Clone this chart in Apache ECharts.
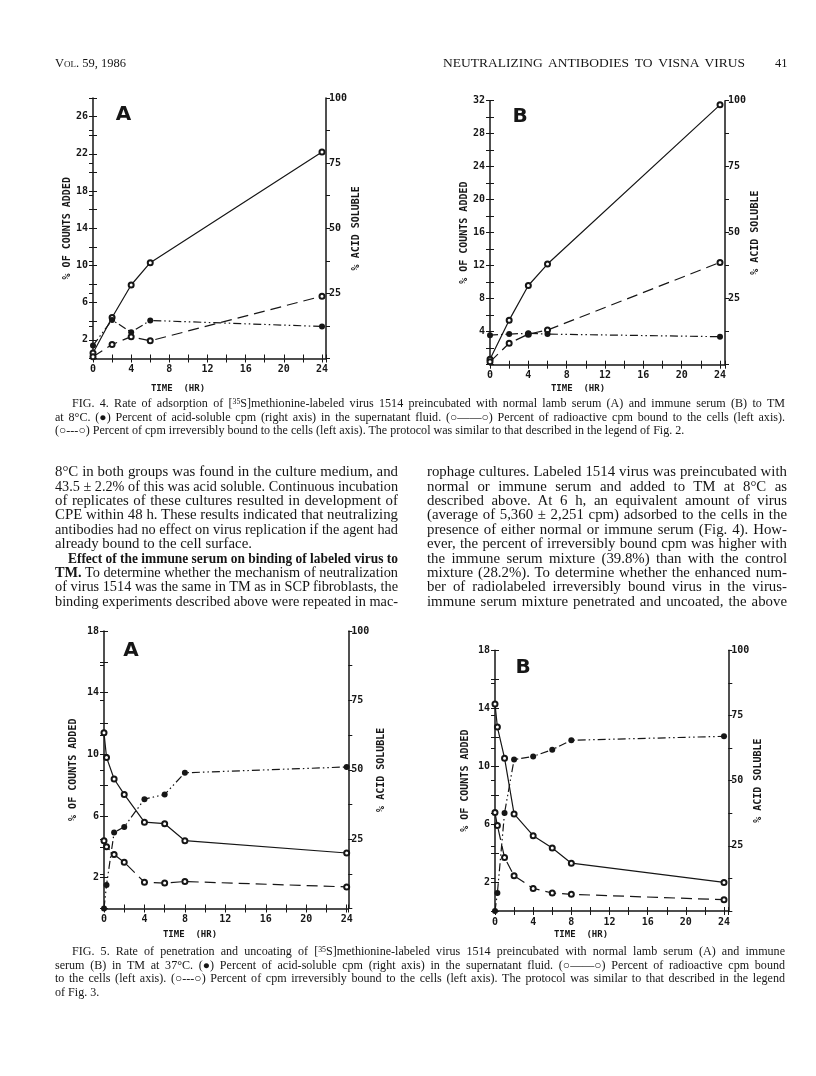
<!DOCTYPE html>
<html>
<head>
<meta charset="utf-8">
<script src="https://cdn.jsdelivr.net/npm/echarts@6/dist/echarts.min.js"></script>
<style>
html,body{margin:0;padding:0;background:#fff;}
#page{position:relative;width:816px;height:1076px;overflow:hidden;background:#fff;}
#chart{position:absolute;left:0;top:0;width:816px;height:1076px;}
.ln{position:absolute;white-space:nowrap;font-family:"Liberation Serif","Times New Roman",serif;color:#151515;transform-origin:0 50%;line-height:1;}
.ln sup{font-size:0.65em;line-height:0;vertical-align:0.45em;}
</style>
</head>
<body>
<div id="page"><div id="chart"></div><div id="txt"></div></div>
<script>
// ---------------- DATA ----------------
const fig4Time = [0, 2, 4, 6, 24];
const fig4ABound = [0.6, 4.4, 7.9, 10.3, 22.2];
const fig4AIrrev = [0.2, 1.5, 2.35, 1.9, 6.7];
const fig4AAcid  = [5.0, 14.8, 10.1, 14.6, 12.3];
const fig4BBound = [0.65, 5.4, 9.6, 12.2, 31.5];
const fig4BIrrev = [0.35, 2.6, 3.7, 4.2, 12.4];
const fig4BAcid  = [11.2, 11.6, 11.9, 11.6, 10.6];

const fig5Time = [0, 0.25, 1, 2, 4, 6, 8, 24];
const fig5ABound = [11.4, 9.8, 8.4, 7.4, 5.6, 5.5, 4.4, 3.6];
const fig5AIrrev = [4.4, 4.0, 3.5, 3.0, 1.7, 1.65, 1.75, 1.4];
const fig5AAcid  = [0, 8.5, 27.4, 29.4, 39.4, 41.1, 48.9, 51.0];
const fig5BBound = [14.3, 12.7, 10.55, 6.7, 5.2, 4.35, 3.3, 1.97];
const fig5BIrrev = [6.8, 5.9, 3.7, 2.43, 1.56, 1.24, 1.15, 0.78];
const fig5BAcid  = [0, 6.9, 37.6, 58.1, 59.3, 61.9, 65.5, 67.0];

const xTickLabels = [0, 4, 8, 12, 16, 20, 24];
const rightTickLabels = [25, 50, 75, 100];
const leftLabels4A = [2, 6, 10, 14, 18, 22, 26];
const leftLabels4B = [4, 8, 12, 16, 20, 24, 28, 32];
const leftLabels5 = [2, 6, 10, 14, 18];

const xName = 'TIME  (HR)';
const leftName = '% OF COUNTS ADDED';
const rightName = '% ACID SOLUBLE';

// ---------------- TEXT ----------------
const headerLeft = '<span style="font-variant:small-caps">Vol.</span> 59, 1986';
const headerRight = 'NEUTRALIZING ANTIBODIES TO VISNA VIRUS';
const pageNo = '41';

const fig4Caption = [
  'FIG. 4. Rate of adsorption of [<sup>35</sup>S]methionine-labeled virus 1514 preincubated with normal lamb serum (A) and immune serum (B) to TM',
  'at 8°C. (●) Percent of acid-soluble cpm (right axis) in the supernatant fluid. (○——○) Percent of radioactive cpm bound to the cells (left axis).',
  '(○---○) Percent of cpm irreversibly bound to the cells (left axis). The protocol was similar to that described in the legend of Fig. 2.'
];
const bodyLeft = [
  '8°C in both groups was found in the culture medium, and',
  '43.5 ± 2.2% of this was acid soluble. Continuous incubation',
  'of replicates of these cultures resulted in development of',
  'CPE within 48 h. These results indicated that neutralizing',
  'antibodies had no effect on virus replication if the agent had',
  'already bound to the cell surface.',
  '<b>Effect of the immune serum on binding of labeled virus to</b>',
  '<b>TM.</b> To determine whether the mechanism of neutralization',
  'of virus 1514 was the same in TM as in SCP fibroblasts, the',
  'binding experiments described above were repeated in mac-'
];
const bodyRight = [
  'rophage cultures. Labeled 1514 virus was preincubated with',
  'normal or immune serum and added to TM at 8°C as',
  'described above. At 6 h, an equivalent amount of virus',
  '(average of 5,360 ± 2,251 cpm) adsorbed to the cells in the',
  'presence of either normal or immune serum (Fig. 4). How-',
  'ever, the percent of irreversibly bound cpm was higher with',
  'the immune serum mixture (39.8%) than with the control',
  'mixture (28.2%). To determine whether the enhanced num-',
  'ber of radiolabeled irreversibly bound virus in the virus-',
  'immune serum mixture penetrated and uncoated, the above'
];
const fig5Caption = [
  'FIG. 5. Rate of penetration and uncoating of [<sup>35</sup>S]methionine-labeled virus 1514 preincubated with normal lamb serum (A) and immune',
  'serum (B) in TM at 37°C. (●) Percent of acid-soluble cpm (right axis) in the supernatant fluid. (○——○) Percent of radioactive cpm bound',
  'to the cells (left axis). (○---○) Percent of cpm irreversibly bound to the cells (left axis). The protocol was similar to that described in the legend',
  'of Fig. 3.'
];

// ---------------- TEXT LAYOUT ----------------
const txt = document.getElementById('txt');
function placeLine(html, x, y, w, size, justify, maxStretch) {
  const d = document.createElement('div');
  d.className = 'ln';
  d.style.left = x + 'px';
  d.style.top = (y - size * 0.6) + 'px';
  d.style.fontSize = size + 'px';
  d.innerHTML = html;
  txt.appendChild(d);
  const nat = d.getBoundingClientRect().width;
  const ms = maxStretch || 1;
  if (nat > w) {
    d.style.transform = 'scaleX(' + (w / nat) + ')';
  } else {
    const s = Math.min(ms, w / nat);
    if (s > 1) d.style.transform = 'scaleX(' + s + ')';
    if (justify) {
      const spaces = (d.textContent.match(/ /g) || []).length;
      if (spaces) d.style.wordSpacing = ((w / s - nat) / spaces) + 'px';
    }
  }
}
placeLine(headerLeft, 55, 64, 200, 12.5, false);
placeLine(headerRight, 443, 64, 302, 12.5, true, 1.08);
placeLine(pageNo, 775, 64, 20, 12.5, false);

const capLeft = 55, capRight = 785, capIndent = 17;
const cap4Y = [405, 418.5, 432];
fig4Caption.forEach((t, i) => {
  const x = i === 0 ? capLeft + capIndent : capLeft;
  placeLine(t, x, cap4Y[i], capRight - x, 11.5, i < fig4Caption.length - 1, 1.05);
});
const bodyY0 = 473.5, bodyDY = 14.4;
bodyLeft.forEach((t, i) => {
  let x = 55, w = 343;
  if (i === 6) { x += 13; w -= 13; }
  placeLine(t, x, bodyY0 + i * bodyDY, w, 14, i !== 5, 1.06);
});
bodyRight.forEach((t, i) => {
  placeLine(t, 427, bodyY0 + i * bodyDY, 360, 14, true, 1.06);
});
const cap5Y = [953, 966.5, 980, 993.5];
fig5Caption.forEach((t, i) => {
  const x = i === 0 ? capLeft + capIndent : capLeft;
  placeLine(t, x, cap5Y[i], capRight - x, 11.5, i < fig5Caption.length - 1, 1.05);
});

// ---------------- CHARTS ----------------
const INK = '#161616';
const PLOT_FONT = '"DejaVu Sans Mono", monospace';
const panels = [
  { grid: { left: 93, top: 98, width: 233, height: 260.5 }, xMax: 24.42, yMax: 28, leftLabels: leftLabels4A,
    time: fig4Time, bound: fig4ABound, irrev: fig4AIrrev, acid: fig4AAcid,
    letter: 'A', letterPos: [123.5, 115], namePos: [178, 389], gapL: 16, gapR: 23 },
  { grid: { left: 490, top: 100.7, width: 235, height: 264 }, xMax: 24.52, yMax: 32, leftLabels: leftLabels4B,
    time: fig4Time, bound: fig4BBound, irrev: fig4BIrrev, acid: fig4BAcid,
    letter: 'B', letterPos: [520, 117], namePos: [578, 389], gapL: 18, gapR: 23 },
  { grid: { left: 104, top: 631, width: 244.3, height: 277.5 }, xMax: 24.16, yMax: 18, leftLabels: leftLabels5,
    time: fig5Time, bound: fig5ABound, irrev: fig5AIrrev, acid: fig5AAcid,
    letter: 'A', letterPos: [131, 651], namePos: [190, 935], gapL: 26, gapR: 28 },
  { grid: { left: 495, top: 650.3, width: 233.3, height: 260.7 }, xMax: 24.45, yMax: 18, leftLabels: leftLabels5,
    time: fig5Time, bound: fig5BBound, irrev: fig5BIrrev, acid: fig5BAcid,
    letter: 'B', letterPos: [523, 668], namePos: [581, 935], gapL: 25, gapR: 24 }
];

const grids = [], xAxes = [], yAxes = [], series = [], graphics = [];
const lblStyle = { color: INK, fontFamily: PLOT_FONT, fontSize: 10, fontWeight: 'bold' };
const nameStyle = { color: INK, fontFamily: PLOT_FONT, fontSize: 10, fontWeight: 'bold' };
const lineAxis = { show: true, onZero: false, lineStyle: { color: INK, width: 1.5 } };

function zip(t, v) { return t.map((x, i) => [x, v[i]]); }

panels.forEach((p, gi) => {
  grids.push(Object.assign({ containLabel: false }, p.grid));
  const xi = xAxes.length, yi = yAxes.length;
  xAxes.push({ type: 'value', gridIndex: gi, position: 'bottom', min: 0, max: p.xMax, interval: 2,
    axisLine: lineAxis, axisTick: { show: true, length: 4, lineStyle: { color: INK, width: 1 } },
    axisLabel: Object.assign({ margin: 6, formatter: v => xTickLabels.includes(v) ? String(v) : '' }, lblStyle),
    splitLine: { show: false } });
  xAxes.push({ type: 'value', gridIndex: gi, position: 'bottom', min: 0, max: p.xMax, interval: 2,
    axisLine: { show: false }, axisTick: { show: true, inside: true, length: 4, lineStyle: { color: INK, width: 1 } },
    axisLabel: { show: false }, splitLine: { show: false } });
  yAxes.push({ type: 'value', gridIndex: gi, position: 'left', min: 0, max: p.yMax, interval: 2,
    axisLine: lineAxis, axisTick: { show: true, length: 4, lineStyle: { color: INK, width: 1 } },
    axisLabel: Object.assign({ margin: 5, formatter: v => p.leftLabels.includes(v) ? String(v) : '' }, lblStyle),
    splitLine: { show: false },
    name: leftName, nameLocation: 'middle', nameRotate: 90, nameGap: p.gapL, nameTextStyle: nameStyle });
  yAxes.push({ type: 'value', gridIndex: gi, position: 'left', min: 0, max: p.yMax, interval: 2,
    axisLine: { show: false }, axisTick: { show: true, inside: true, length: 4, lineStyle: { color: INK, width: 1 } },
    axisLabel: { show: false }, splitLine: { show: false } });
  yAxes.push({ type: 'value', gridIndex: gi, position: 'right', min: 0, max: 100, interval: 12.5,
    axisLine: lineAxis, axisTick: { show: true, length: 4, lineStyle: { color: INK, width: 1 } },
    axisLabel: Object.assign({ margin: 3, formatter: v => rightTickLabels.includes(v) ? String(v) : '' }, lblStyle),
    splitLine: { show: false },
    name: rightName, nameLocation: 'middle', nameRotate: 90, nameGap: p.gapR, nameTextStyle: nameStyle });
  yAxes.push({ type: 'value', gridIndex: gi, position: 'right', min: 0, max: 100, interval: 12.5,
    axisLine: { show: false }, axisTick: { show: true, inside: true, length: 4, lineStyle: { color: INK, width: 1 } },
    axisLabel: { show: false }, splitLine: { show: false } });

  series.push({ type: 'line', xAxisIndex: xi, yAxisIndex: yi, data: zip(p.time, p.bound),
    symbol: 'emptyCircle', symbolSize: 5, lineStyle: { color: INK, width: 1.2, type: 'solid' },
    itemStyle: { color: INK, borderColor: INK, borderWidth: 1 }, z: 3 });
  series.push({ type: 'line', xAxisIndex: xi, yAxisIndex: yi, data: zip(p.time, p.irrev),
    symbol: 'emptyCircle', symbolSize: 5, lineStyle: { color: INK, width: 1.2, type: [11, 6] },
    itemStyle: { color: INK, borderColor: INK, borderWidth: 1 }, z: 3 });
  series.push({ type: 'line', xAxisIndex: xi, yAxisIndex: yi + 2, data: zip(p.time, p.acid),
    symbol: 'circle', symbolSize: 6, lineStyle: { color: INK, width: 1.2, type: [8, 3, 1.5, 3, 1.5, 3] },
    itemStyle: { color: INK }, z: 4 });

  graphics.push({ type: 'text', x: p.letterPos[0], y: p.letterPos[1],
    style: { text: p.letter, fill: INK, font: 'bold 20px "DejaVu Sans", sans-serif', align: 'center', verticalAlign: 'middle' } });
  graphics.push({ type: 'text', x: p.namePos[0], y: p.namePos[1],
    style: { text: xName, fill: INK, font: 'bold 9px "DejaVu Sans Mono", monospace', align: 'center', verticalAlign: 'middle' } });
});

const chart = echarts.init(document.getElementById('chart'), null, { renderer: 'canvas' });
chart.setOption({
  backgroundColor: 'transparent',
  animation: false,
  grid: grids,
  xAxis: xAxes,
  yAxis: yAxes,
  series: series,
  graphic: graphics
});
</script>
</body>
</html>
